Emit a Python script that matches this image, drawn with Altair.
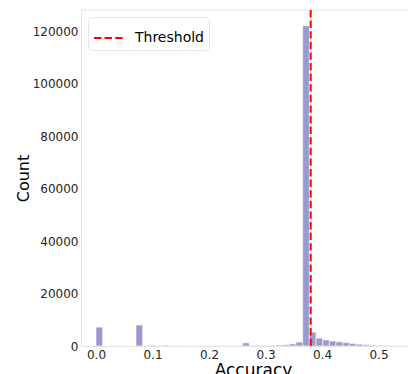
import altair as alt
import pandas as pd

# Histogram bins (equal width, starting at 0) and counts
bin_width = 0.0118
counts = [
    7200, 0, 0, 150, 0, 0, 8000, 0, 300, 100,
    300, 60, 50, 40, 40, 40, 40, 40, 50, 50,
    60, 80, 1200, 200, 150, 200, 250, 350, 500, 800,
    1500, 122000, 5300, 3000, 2300, 1900, 1600, 1300, 1000, 700,
    500, 350, 250, 200, 150, 100, 60, 30,
]
threshold = 0.38
threshold_label = "Threshold"
x_ticks = [0.0, 0.1, 0.2, 0.3, 0.4, 0.5]
y_ticks = [0, 20000, 40000, 60000, 80000, 100000, 120000]

bins = pd.DataFrame({
    "bin_start": [i * bin_width for i in range(len(counts))],
    "bin_end": [(i + 1) * bin_width for i in range(len(counts))],
    "count": counts,
})
thr = pd.DataFrame({"threshold": [threshold], "label": [threshold_label]})
frame = pd.DataFrame({"k": [0]})

FONT = "DejaVu Sans"
W, H = 327, 336

xscale = alt.Scale(domain=[-0.02655, 0.5522], nice=False, zero=False)
yscale = alt.Scale(domain=[0, 128000], nice=False)

bars = alt.Chart(bins).mark_bar(
    color="#9a9ad0", stroke="white", strokeWidth=0.6, clip=True
).encode(
    x=alt.X("bin_start:Q", scale=xscale,
            axis=alt.Axis(values=x_ticks, format=".1f", title="Accuracy",
                          labelFontSize=12, labelPadding=3, titleFontSize=17,
                          titlePadding=2, titleX=172, titleAlign="center",
                          titleFontWeight="normal")),
    x2="bin_end:Q",
    y=alt.Y("count:Q", scale=yscale,
            axis=alt.Axis(values=y_ticks, format="d", title="Count",
                          labelFontSize=12, labelPadding=3, titleFontSize=16,
                          titlePadding=1, titleFontWeight="normal")),
    y2=alt.datum(0),
)

top_line = alt.Chart(frame).mark_rule(color="#e4e4e4", strokeWidth=1).encode(
    y=alt.value(0)
)

rule = alt.Chart(thr).mark_rule(strokeDash=[7.4, 3.2], strokeWidth=2).encode(
    x=alt.X("threshold:Q", scale=xscale),
    color=alt.Color("label:N", scale=alt.Scale(range=["#ff0000"]),
                    legend=alt.Legend(
                        title=None, orient="top-left", offset=7,
                        symbolType="stroke", symbolDash=[7.4, 3.2],
                        symbolStrokeWidth=2, symbolSize=900,
                        labelFontSize=14, labelFont=FONT, labelColor="#000000",
                        labelOffset=10, fillColor="white", strokeColor="#e6e6e6",
                        cornerRadius=3, padding=5)),
)

chart = alt.layer(bars, top_line, rule).properties(
    width=W, height=H,
    autosize=alt.AutoSizeParams(type="none"),
    padding={"left": 73, "top": 2, "right": 0, "bottom": 28},
).configure_view(stroke=None).configure_axis(
    grid=False, ticks=False, domainColor="#e4e4e4", domainWidth=1,
    labelFont=FONT, titleFont=FONT, labelColor="#262626", titleColor="#000000",
)

chart.save("out.html", embed_options={"renderer": "svg", "actions": False})
